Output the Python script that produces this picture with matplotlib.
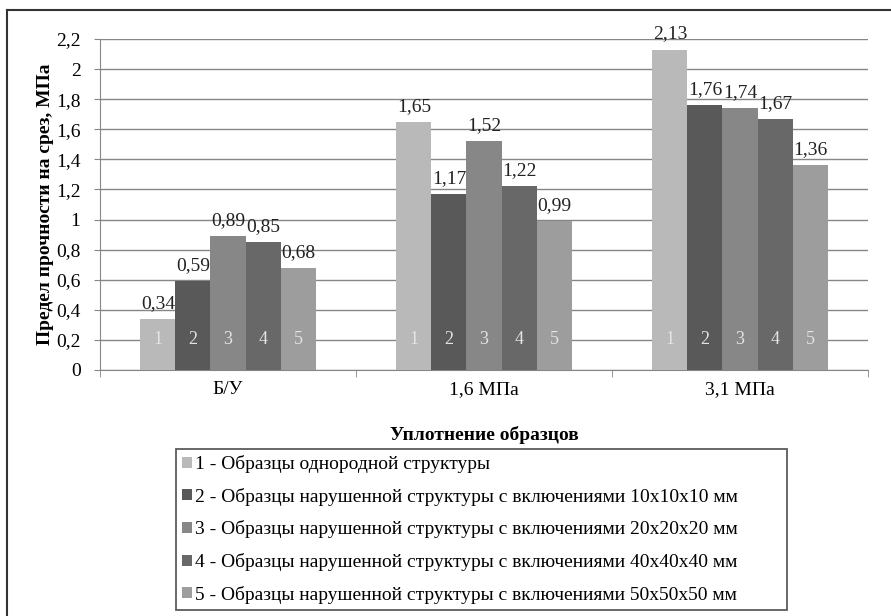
import matplotlib
matplotlib.use('Agg')
import matplotlib.pyplot as plt
from matplotlib.lines import Line2D
from matplotlib.patches import Patch
import numpy as np

plt.rcParams['font.family'] = ['Liberation Serif', 'DejaVu Serif']

# data
groups = ['Б/У', '1,6 МПа', '3,1 МПа']
series = [
    '1 - Образцы однородной структуры',
    '2 - Образцы нарушенной структуры с включениями 10x10x10 мм',
    '3 - Образцы нарушенной структуры с включениями 20x20x20 мм',
    '4 - Образцы нарушенной структуры с включениями 40x40x40 мм',
    '5 - Образцы нарушенной структуры с включениями 50x50x50 мм',
]
bar_tags = ['1', '2', '3', '4', '5']
values = [
    [0.34, 1.65, 2.13],
    [0.59, 1.17, 1.76],
    [0.89, 1.52, 1.74],
    [0.85, 1.22, 1.67],
    [0.68, 0.99, 1.36],
]
colors = ['#b9b9b9', '#595959', '#878787', '#686868', '#9d9d9d']
yticks = [0, 0.2, 0.4, 0.6, 0.8, 1, 1.2, 1.4, 1.6, 1.8, 2, 2.2]

W, H = 891, 616
fig = plt.figure(figsize=(W / 100, H / 100), dpi=100)
ax = fig.add_axes([100 / W, 1 - 370 / H, 768 / W, 331 / H])

fs = 14
x = np.arange(len(groups))
w = 0.137
for i in range(len(series)):
    bars = ax.bar(x + (i - 2) * w, values[i], w, color=colors[i], label=series[i], zorder=3)
    ax.bar_label(bars, labels=[f'{v:.2f}'.replace('.', ',') for v in values[i]],
                 padding=5, fontsize=fs, color='#222222')
    for xi in x:
        ax.text(xi + (i - 2) * w, 0.2, bar_tags[i], ha='center', va='center',
                fontsize=13, color='#e4e4e4', zorder=4)

ax.set_xlim(-0.5, 2.5)
ax.set_ylim(0, 2.2)
ax.set_yticks(yticks)
ax.set_yticklabels([f'{v:g}'.replace('.', ',') for v in yticks], fontsize=fs)
ax.set_xticks(x)
ax.set_xticklabels(groups, fontsize=fs)
ax.set_xticks([-0.5, 0.5, 1.5, 2.5], minor=True)
ax.tick_params(axis='x', which='major', length=0, pad=8)
ax.tick_params(axis='x', which='minor', length=5, color='#868686')
ax.tick_params(axis='y', length=4, color='#868686', pad=10)
ax.grid(axis='y', color='#868686', linewidth=1, zorder=0)
for s in ['top', 'right']:
    ax.spines[s].set_visible(False)
for s in ['left', 'bottom']:
    ax.spines[s].set_color('#868686')

ax.set_ylabel('Предел прочности на срез, МПа', fontsize=fs, fontweight='bold', labelpad=1.5)
ax.set_xlabel('Уплотнение образцов', fontsize=fs, fontweight='bold', labelpad=20)

handles = [Patch(facecolor=c, edgecolor='none') for c in colors]
leg = fig.legend(handles, series, loc='upper left', mode='expand',
                 bbox_to_anchor=(176 / W, 1 - 610 / H, 611 / W, 161 / H),
                 fontsize=fs, frameon=True, fancybox=False, edgecolor='#333333',
                 handlelength=0.5, handleheight=0.5, handletextpad=0.15,
                 labelspacing=0.75, borderpad=0.32, borderaxespad=0)
leg.get_frame().set_linewidth(1.3)

# outer frame
fig.add_artist(Line2D([7 / W, 7 / W], [0, 1 - 10 / H], color='#333333', lw=1.5))
fig.add_artist(Line2D([7 / W, 1], [1 - 10 / H, 1 - 10 / H], color='#333333', lw=1.5))

fig.savefig('out.png', dpi=100)
